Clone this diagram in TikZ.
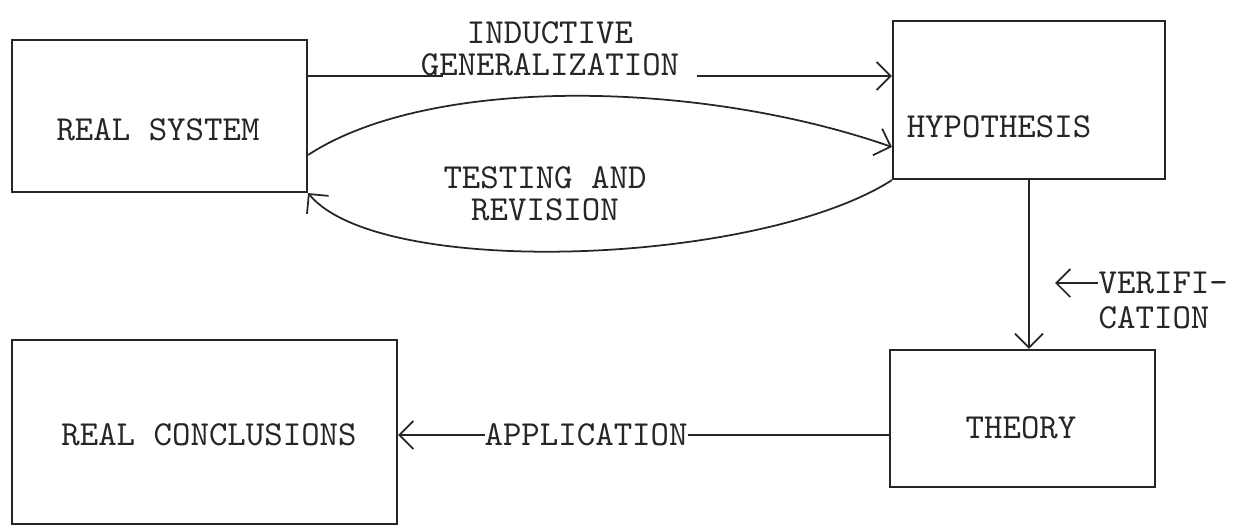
\documentclass[tikz,border=0pt]{standalone}
\usepackage{tikz}
\usetikzlibrary{arrows.meta}

\tikzset{
  box/.style={draw=black!85, line width=0.6pt, rectangle, inner sep=0pt},
  lbl/.style={font=\ttfamily\fontsize{10}{9}\selectfont, text=black!85, inner sep=0pt, align=center},
  flow/.style={draw=black!85, line width=0.5pt, -{Straight Barb[length=4pt,width=8pt]}},
  line/.style={draw=black!85, line width=0.5pt}
}

\begin{document}
\begin{tikzpicture}[scale=0.5]
    \useasboundingbox (0,0) rectangle (24.96,10.6);

    % Boxes
    \node[box, minimum width=2.95cm, minimum height=1.52cm] (rs) at (3.19,8.28) {};
    \node[box, minimum width=2.72cm, minimum height=1.58cm] (hyp) at (20.58,8.60) {};
    \node[box, minimum width=2.65cm, minimum height=1.37cm] (th) at (20.45,2.23) {};
    \node[box, minimum width=3.85cm, minimum height=1.84cm] (rc) at (4.09,1.96) {};

    % Box texts
    \node[lbl] (rstext) at (3.16,8.00) {REAL SYSTEM};
    \node[lbl] (hyptext) at (19.98,8.06) {HYPOTHESIS};
    \node[lbl] (thtext) at (20.42,2.04) {THEORY};
    \node[lbl] (rctext) at (4.18,1.90) {REAL CONCLUSIONS};

    % Inductive generalization
    \node[lbl] (gen) at (11.0,9.62) {INDUCTIVE\\GENERALIZATION};
    \coordinate (genL) at (8.86,9.08);
    \coordinate (genR) at (13.94,9.08);
    \draw[line] (rs.east |- genL) -- (genL);
    \draw[flow] (genR) -- (genR -| hyp.west);

    % Testing and revision
    \node[lbl] (test) at (10.9,6.72) {TESTING AND\\REVISION};
    \draw[flow] (rs.east |- 0,7.5) .. controls (8.6,9.1) and (14.0,9.0) .. (hyp.west |- 0,7.66);
    \draw[flow] (hyp.south west) .. controls (15.2,5.3) and (7.6,5.0) .. (rs.south east);

    % Verification
    \draw[flow] (hyp.south) -- (hyp.south |- th.north);
    \node[lbl, anchor=west] (verA) at (21.96,4.94) {VERIFI-};
    \node[lbl, anchor=west] (verB) at (21.96,4.24) {CATION};
    \coordinate (vtip) at (21.10,4.94);
    \draw[flow] (verA.west) -- (vtip);

    % Application
    \draw[flow] (th.west |- 0,1.9) -- node[lbl, fill=white, pos=0.617] (app) {APPLICATION} (rc.east |- 0,1.9);
\end{tikzpicture}
\end{document}
